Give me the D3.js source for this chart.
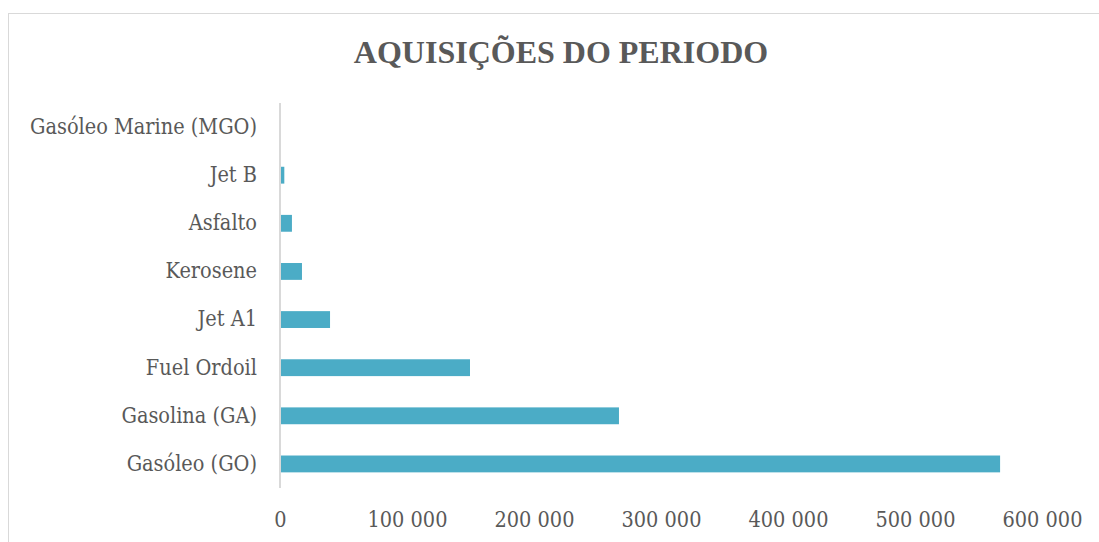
<!DOCTYPE html>
<html>
<head>
<meta charset="utf-8">
<script src="https://cdn.jsdelivr.net/npm/d3@7"></script>
<style>
    body { margin: 0; background: #fff; }
    svg { display: block; }
    .lbl { font-family: 'DejaVu Serif Condensed', 'DejaVu Serif', serif; font-stretch: condensed; }
</style>
</head>
<body>
<svg id="chart"></svg>
<script>
// values
const categories = [
    "Gasóleo Marine (MGO)", "Jet B", "Asfalto", "Kerosene",
    "Jet A1", "Fuel Ordoil", "Gasolina (GA)", "Gasóleo (GO)"
];
const values = [0, 3400, 9400, 17300, 39400, 149600, 266900, 567000];
const xTicks = [0, 100000, 200000, 300000, 400000, 500000, 600000];
const title = "AQUISIÇÕES DO PERIODO";

const data = categories.map((c, i) => ({ name: c, value: values[i] }));

const width = 1099, height = 542;
const margin = { top: 103, right: 57, bottom: 54, left: 280 };
const textColor = "#595959";

const svg = d3.select("#chart")
    .attr("width", width)
    .attr("height", height);

// chart frame
svg.append("rect")
    .attr("x", 8.5).attr("y", 13.5)
    .attr("width", 1200).attr("height", 700)
    .attr("fill", "none")
    .attr("stroke", "#d9d9d9");

svg.append("text")
    .attr("x", 561)
    .attr("y", 63)
    .attr("text-anchor", "middle")
    .attr("font-family", "'Liberation Serif', 'Times New Roman', serif")
    .attr("font-weight", "bold")
    .attr("font-size", 32)
    .attr("fill", textColor)
    .text(title);

const xScale = d3.scaleLinear()
    .domain([0, 600000])
    .range([margin.left, width - margin.right]);

const yScale = d3.scaleBand()
    .domain(categories)
    .range([margin.top, height - margin.bottom])
    .paddingInner(0.65)
    .paddingOuter(0.325);

svg.append("g")
    .selectAll("rect")
    .data(data)
    .join("rect")
    .attr("x", xScale(0))
    .attr("y", d => yScale(d.name))
    .attr("width", d => xScale(d.value) - xScale(0))
    .attr("height", yScale.bandwidth())
    .attr("fill", "#4bacc6");

const fmt = d => d3.format(",")(d).replace(/,/g, " ");

const xAxis = svg.append("g")
    .attr("transform", `translate(0, ${height - margin.bottom})`)
    .call(d3.axisBottom(xScale).tickValues(xTicks).tickFormat(fmt).tickSize(0).tickPadding(24));
xAxis.select(".domain").remove();
xAxis.selectAll("text")
    .attr("class", "lbl")
    .attr("font-size", 21.5)
    .attr("fill", textColor);

const yAxis = svg.append("g")
    .attr("transform", `translate(${margin.left}, 0)`)
    .call(d3.axisLeft(yScale).tickSize(0).tickPadding(23));
yAxis.select(".domain").remove();
yAxis.selectAll("text")
    .attr("class", "lbl")
    .attr("font-size", 21.5)
    .attr("fill", textColor);

// vertical category axis line
svg.append("line")
    .attr("x1", xScale(0)).attr("x2", xScale(0))
    .attr("y1", margin.top).attr("y2", height - margin.bottom)
    .attr("stroke", "#d9d9d9")
    .attr("stroke-width", 2);
</script>
</body>
</html>
